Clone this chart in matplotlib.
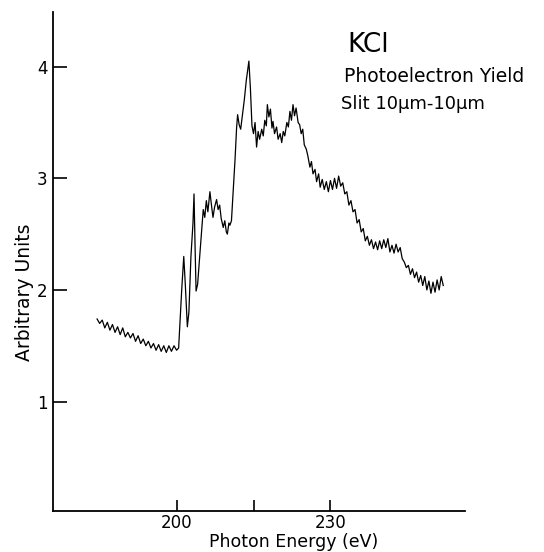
import matplotlib
matplotlib.use('Agg')
import matplotlib.pyplot as plt

# photoelectron yield of KCl
energy = [
    184.5, 185.0, 185.5, 186.0, 186.5, 187.0, 187.5, 188.0, 188.5, 189.0,
    189.5, 190.0, 190.5, 191.0, 191.5, 192.0, 192.5, 193.0, 193.5, 194.0,
    194.5, 195.0, 195.5, 196.0, 196.5, 197.0, 197.5, 198.0, 198.5, 199.0,
    199.5, 200.0, 200.4, 201.0, 201.4, 201.7, 202.1, 202.4, 202.8, 203.2,
    203.4, 203.6, 203.8, 204.1, 204.5, 205.0, 205.2, 205.5, 205.8, 206.1,
    206.5, 206.8, 207.1, 207.4, 207.8, 208.1, 208.4, 208.7, 209.1, 209.4,
    209.7, 209.9, 210.2, 210.4, 210.7, 211.0, 211.4, 211.7, 211.9, 212.2,
    212.5, 212.8, 213.2, 213.6, 214.1, 214.4, 214.7, 215.0, 215.3, 215.6,
    215.9, 216.2, 216.6, 216.9, 217.2, 217.5, 217.7, 218.0, 218.3, 218.6,
    218.8, 219.1, 219.5, 219.8, 220.2, 220.5, 220.8, 221.1, 221.5, 221.8,
    222.1, 222.4, 222.7, 223.0, 223.3, 223.7, 224.0, 224.3, 224.6, 224.9,
    225.3, 225.6, 226.0, 226.3, 226.6, 227.0, 227.3, 227.7, 228.0, 228.4,
    228.8, 229.2, 229.6, 230.0, 230.4, 230.8, 231.2, 231.6, 232.0, 232.4,
    232.8, 233.2, 233.6, 234.0, 234.4, 234.8, 235.2, 235.6, 236.0, 236.4,
    236.8, 237.2, 237.6, 238.0, 238.4, 238.8, 239.2, 239.6, 240.0, 240.4,
    240.8, 241.2, 241.6, 242.0, 242.4, 242.8, 243.2, 243.6, 244.0, 244.4,
    244.8, 245.2, 245.6, 246.0, 246.4, 246.8, 247.2, 247.6, 248.0, 248.4,
    248.8, 249.2, 249.6, 250.0, 250.4, 250.8, 251.2, 251.6, 252.0,
]
yield_ = [
    1.74, 1.70, 1.73, 1.66, 1.71, 1.64, 1.69, 1.62, 1.67, 1.60,
    1.66, 1.58, 1.62, 1.57, 1.61, 1.54, 1.59, 1.52, 1.56, 1.50,
    1.54, 1.48, 1.52, 1.46, 1.51, 1.45, 1.50, 1.44, 1.50, 1.45,
    1.50, 1.46, 1.48, 2.00, 2.30, 2.05, 1.67, 1.80, 2.30, 2.60,
    2.86, 2.40, 1.99, 2.05, 2.30, 2.60, 2.72, 2.65, 2.80, 2.70,
    2.88, 2.76, 2.65, 2.74, 2.81, 2.72, 2.76, 2.64, 2.56, 2.62,
    2.52, 2.50, 2.60, 2.58, 2.62, 2.85, 3.17, 3.45, 3.57, 3.48,
    3.44, 3.55, 3.70, 3.88, 4.05, 3.80, 3.47, 3.40, 3.50, 3.28,
    3.42, 3.35, 3.44, 3.38, 3.52, 3.47, 3.66, 3.55, 3.62, 3.45,
    3.51, 3.40, 3.46, 3.35, 3.40, 3.32, 3.42, 3.38, 3.50, 3.46,
    3.60, 3.52, 3.66, 3.56, 3.63, 3.50, 3.48, 3.40, 3.44, 3.30,
    3.26, 3.20, 3.10, 3.15, 3.04, 3.08, 2.97, 3.04, 2.92, 2.99,
    2.90, 2.97, 2.88, 2.98, 2.90, 3.00, 2.91, 3.02, 2.93, 2.96,
    2.86, 2.88, 2.76, 2.80, 2.70, 2.72, 2.60, 2.63, 2.52, 2.55,
    2.44, 2.48, 2.40, 2.45, 2.37, 2.43, 2.36, 2.44, 2.37, 2.45,
    2.38, 2.46, 2.34, 2.40, 2.33, 2.41, 2.34, 2.38, 2.28, 2.25,
    2.20, 2.22, 2.14, 2.19, 2.11, 2.16, 2.07, 2.13, 2.04, 2.12,
    2.00, 2.08, 1.97, 2.07, 1.98, 2.09, 2.00, 2.12, 2.04,
]

x_ticks = [200, 215, 230]
x_tick_labels = ['200', '', '230']
y_ticks = [1, 2, 3, 4]

plt.rcParams['font.family'] = ['DejaVu Sans']

fig = plt.figure(figsize=(5.44, 5.52), dpi=100)
ax = fig.add_axes([0.0974, 0.0743, 0.757, 0.904])

ax.plot(energy, yield_, color='black', lw=0.9)

ax.set_xlim(175.9, 256.2)
ax.set_ylim(0.02, 4.49)
ax.set_xticks(x_ticks)
ax.set_xticklabels(x_tick_labels)
ax.set_yticks(y_ticks)

ax.spines['top'].set_visible(False)
ax.spines['right'].set_visible(False)
ax.spines['left'].set_linewidth(1.3)
ax.spines['bottom'].set_linewidth(1.3)
ax.tick_params(axis='y', direction='in', length=10, width=1.2, labelsize=12, pad=4)
ax.tick_params(axis='x', direction='in', length=8, width=1.2, labelsize=12, pad=2)

ax.set_xlabel('Photon Energy (eV)', fontsize=12.5)
ax.set_ylabel('Arbitrary Units', fontsize=13.5)
ax.xaxis.set_label_coords(0.585, -0.044)
ax.yaxis.set_label_coords(-0.045, 0.439)

fig.text(0.638, 0.918, 'KCl', fontsize=19, va='center', ha='left')
fig.text(0.632, 0.861, 'Photoelectron Yield', fontsize=13.5, va='center', ha='left')
fig.text(0.627, 0.812, 'Slit 10µm-10µm', fontsize=13, va='center', ha='left')

fig.savefig('out.png', dpi=100)
